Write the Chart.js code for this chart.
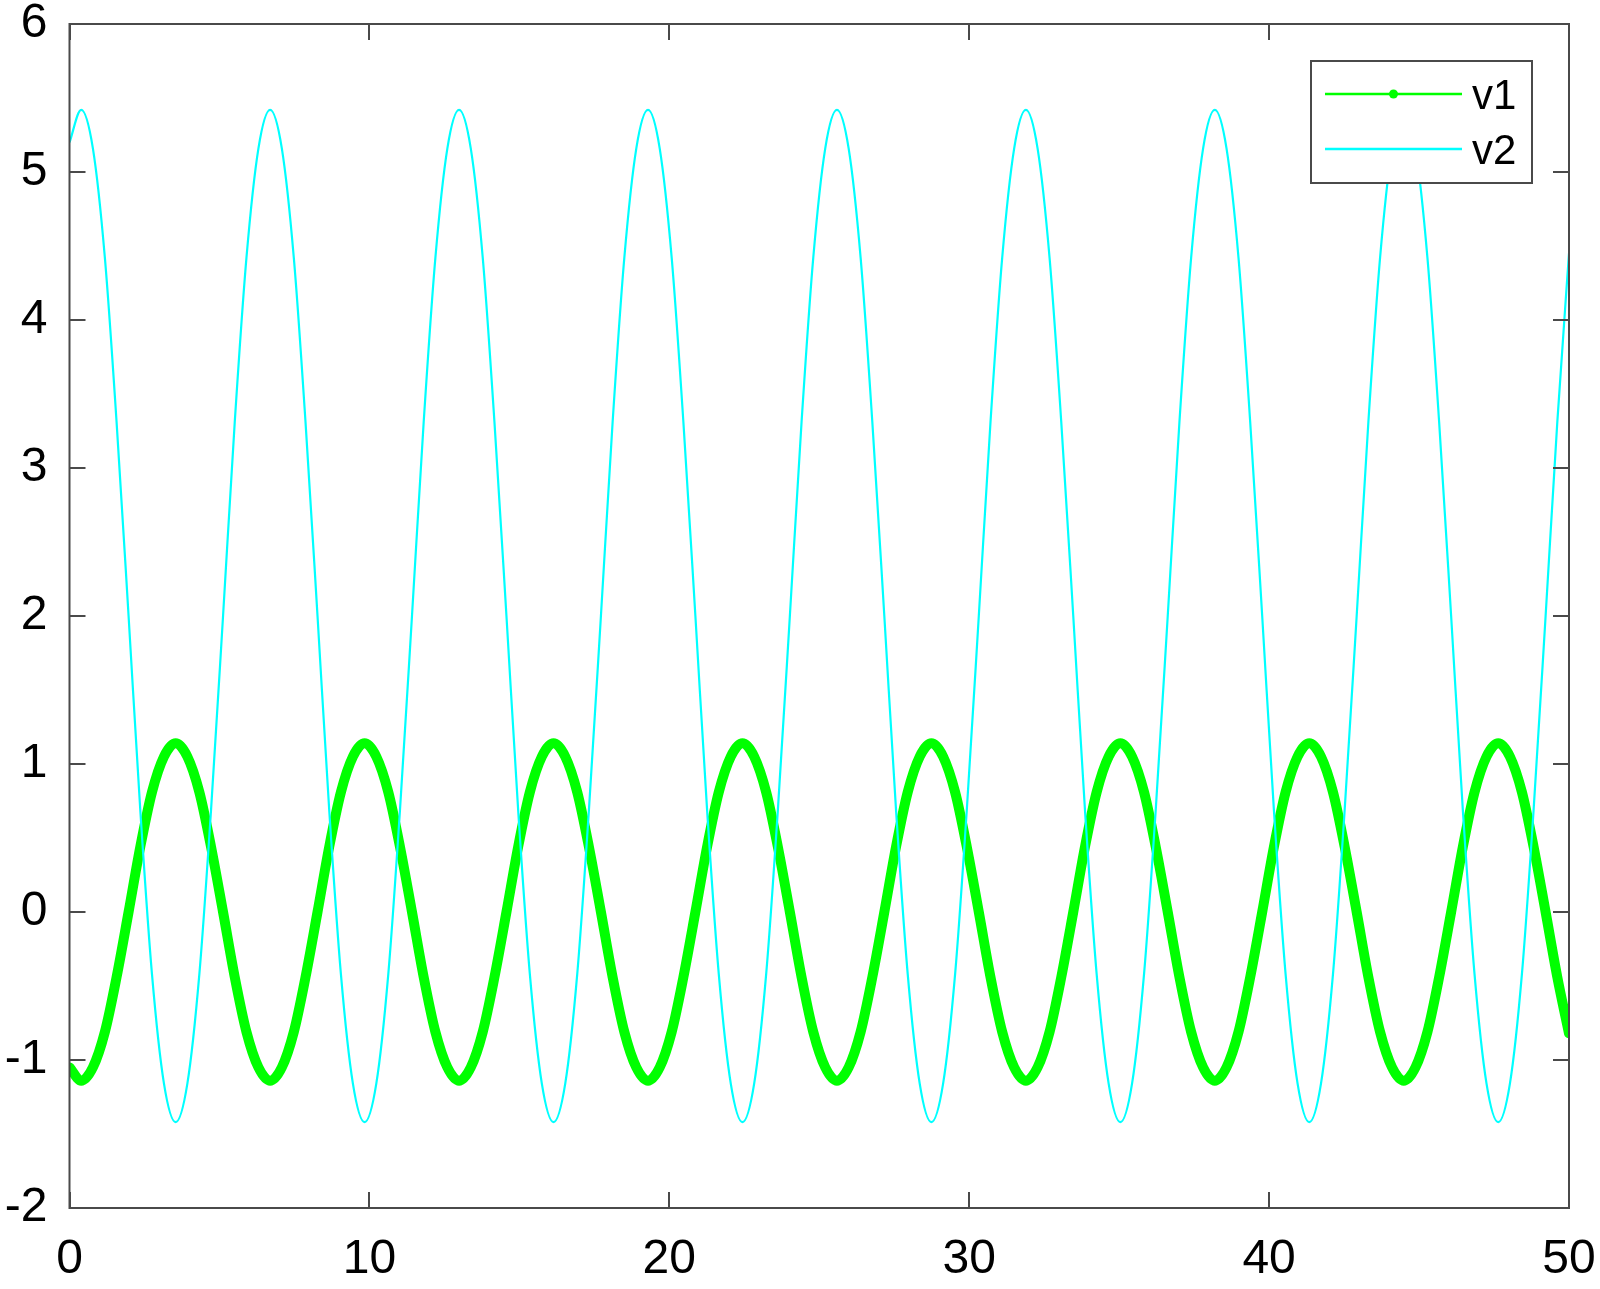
<!DOCTYPE html>
<html>
<head>
<meta charset="utf-8">
<script src="https://cdn.jsdelivr.net/npm/chart.js@4.4.1/dist/chart.umd.min.js"></script>
<style>html,body{margin:0;padding:0;background:#fff;}canvas{display:block;}</style>
</head>
<body>
<canvas id="c" width="1600" height="1289"></canvas>
<script>
// x positions
const xValues = [0,
 0.39, 0.78, 1.18, 1.57, 1.97, 2.36, 2.75, 3.15, 3.54, 3.93, 4.33, 4.72, 5.12, 5.51, 5.90, 6.30,
 6.69, 7.08, 7.48, 7.87, 8.27, 8.66, 9.05, 9.45, 9.84, 10.23, 10.63, 11.02, 11.42, 11.81, 12.20, 12.60,
 12.99, 13.38, 13.78, 14.17, 14.57, 14.96, 15.35, 15.75, 16.14, 16.53, 16.93, 17.32, 17.72, 18.11, 18.50, 18.90,
 19.29, 19.68, 20.08, 20.47, 20.87, 21.26, 21.65, 22.05, 22.44, 22.83, 23.23, 23.62, 24.02, 24.41, 24.80, 25.20,
 25.59, 25.98, 26.38, 26.77, 27.17, 27.56, 27.95, 28.35, 28.74, 29.13, 29.53, 29.92, 30.32, 30.71, 31.10, 31.50,
 31.89, 32.28, 32.68, 33.07, 33.47, 33.86, 34.25, 34.65, 35.04, 35.43, 35.83, 36.22, 36.62, 37.01, 37.40, 37.80,
 38.19, 38.58, 38.98, 39.37, 39.77, 40.16, 40.55, 40.95, 41.34, 41.73, 42.13, 42.52, 42.92, 43.31, 43.70, 44.10,
 44.49, 44.88, 45.28, 45.67, 46.07, 46.46, 46.85, 47.25, 47.64, 48.03, 48.43, 48.82, 49.22, 49.61, 50.00];

const v1Values = [-1.05,
 -1.14, -1.05, -0.81, -0.44, 0, 0.44, 0.81, 1.05, 1.14, 1.05, 0.81, 0.44, 0, -0.44, -0.81, -1.05,
 -1.14, -1.05, -0.81, -0.44, 0, 0.44, 0.81, 1.05, 1.14, 1.05, 0.81, 0.44, 0, -0.44, -0.81, -1.05,
 -1.14, -1.05, -0.81, -0.44, 0, 0.44, 0.81, 1.05, 1.14, 1.05, 0.81, 0.44, 0, -0.44, -0.81, -1.05,
 -1.14, -1.05, -0.81, -0.44, 0, 0.44, 0.81, 1.05, 1.14, 1.05, 0.81, 0.44, 0, -0.44, -0.81, -1.05,
 -1.14, -1.05, -0.81, -0.44, 0, 0.44, 0.81, 1.05, 1.14, 1.05, 0.81, 0.44, 0, -0.44, -0.81, -1.05,
 -1.14, -1.05, -0.81, -0.44, 0, 0.44, 0.81, 1.05, 1.14, 1.05, 0.81, 0.44, 0, -0.44, -0.81, -1.05,
 -1.14, -1.05, -0.81, -0.44, 0, 0.44, 0.81, 1.05, 1.14, 1.05, 0.81, 0.44, 0, -0.44, -0.81, -1.05,
 -1.14, -1.05, -0.81, -0.44, 0, 0.44, 0.81, 1.05, 1.14, 1.05, 0.81, 0.44, 0, -0.44, -0.82];

const v2Values = [5.20,
 5.42, 5.16, 4.42, 3.31, 2.00, 0.69, -0.42, -1.16, -1.42, -1.16, -0.42, 0.69, 2.00, 3.31, 4.42, 5.16,
 5.42, 5.16, 4.42, 3.31, 2.00, 0.69, -0.42, -1.16, -1.42, -1.16, -0.42, 0.69, 2.00, 3.31, 4.42, 5.16,
 5.42, 5.16, 4.42, 3.31, 2.00, 0.69, -0.42, -1.16, -1.42, -1.16, -0.42, 0.69, 2.00, 3.31, 4.42, 5.16,
 5.42, 5.16, 4.42, 3.31, 2.00, 0.69, -0.42, -1.16, -1.42, -1.16, -0.42, 0.69, 2.00, 3.31, 4.42, 5.16,
 5.42, 5.16, 4.42, 3.31, 2.00, 0.69, -0.42, -1.16, -1.42, -1.16, -0.42, 0.69, 2.00, 3.31, 4.42, 5.16,
 5.42, 5.16, 4.42, 3.31, 2.00, 0.69, -0.42, -1.16, -1.42, -1.16, -0.42, 0.69, 2.00, 3.31, 4.42, 5.16,
 5.42, 5.16, 4.42, 3.31, 2.00, 0.69, -0.42, -1.16, -1.42, -1.16, -0.42, 0.69, 2.00, 3.31, 4.42, 5.16,
 5.42, 5.16, 4.42, 3.31, 2.00, 0.69, -0.42, -1.16, -1.42, -1.16, -0.42, 0.69, 2.00, 3.31, 4.45];

const seriesNames = ['v1', 'v2'];
const seriesColors = ['#00ff00', '#00ffff'];
const xTickValues = [0, 10, 20, 30, 40, 50];
const yTickValues = [-2, -1, 0, 1, 2, 3, 4, 5, 6];

const FONT = "'Liberation Sans', Arial, sans-serif";
const AXIS_COLOR = '#4a4a4a';

const boxPlugin = {
  id: 'matlabBox',
  afterDatasetsDraw(chart) {
    const {ctx, chartArea: a, scales} = chart;
    ctx.save();
    ctx.strokeStyle = AXIS_COLOR;
    ctx.lineWidth = 2;
    ctx.beginPath();
    const tl = 16;
    xTickValues.forEach(v => {
      const px = Math.round(scales.x.getPixelForValue(v));
      ctx.moveTo(px, a.bottom); ctx.lineTo(px, a.bottom - tl);
      ctx.moveTo(px, a.top); ctx.lineTo(px, a.top + tl);
    });
    yTickValues.forEach(v => {
      const py = Math.round(scales.y.getPixelForValue(v));
      ctx.moveTo(a.left, py); ctx.lineTo(a.left + tl, py);
      ctx.moveTo(a.right, py); ctx.lineTo(a.right - tl, py);
    });
    ctx.stroke();
    ctx.strokeRect(a.left, a.top, a.right - a.left, a.bottom - a.top);
    ctx.restore();
  },
  afterDraw(chart) {
    const {ctx} = chart;
    const lx = 1311, ly = 61, lw = 221, lh = 122;
    ctx.save();
    ctx.fillStyle = '#ffffff';
    ctx.fillRect(lx, ly, lw, lh);
    ctx.strokeStyle = AXIS_COLOR;
    ctx.lineWidth = 2;
    ctx.strokeRect(lx, ly, lw, lh);
    const rows = [94, 149];
    chart.data.datasets.forEach((ds, i) => {
      const y = rows[i];
      ctx.strokeStyle = ds.borderColor;
      ctx.lineWidth = 2.5;
      ctx.beginPath();
      ctx.moveTo(1325, y); ctx.lineTo(1462, y);
      ctx.stroke();
      if (i === 0) {
        ctx.fillStyle = ds.borderColor;
        ctx.beginPath();
        ctx.arc(1393.5, y, 4.5, 0, Math.PI * 2);
        ctx.fill();
      }
      ctx.fillStyle = '#000';
      ctx.font = '42px ' + FONT;
      ctx.textBaseline = 'middle';
      ctx.textAlign = 'left';
      ctx.fillText(ds.label, 1472, y + 3);
    });
    ctx.restore();
  }
};

function noPad(s) {
  s.paddingTop = 0; s.paddingBottom = 0; s.paddingLeft = 0; s.paddingRight = 0;
}

const ctx = document.getElementById('c').getContext('2d');
new Chart(ctx, {
  type: 'line',
  data: {
    datasets: [
      {
        label: seriesNames[0],
        data: xValues.map((x, i) => ({x: x, y: v1Values[i]})),
        borderColor: seriesColors[0],
        borderWidth: 10,
        pointRadius: 0,
        cubicInterpolationMode: 'monotone',
        borderCapStyle: 'round',
        borderJoinStyle: 'round',
        order: 1
      },
      {
        label: seriesNames[1],
        data: xValues.map((x, i) => ({x: x, y: v2Values[i]})),
        borderColor: seriesColors[1],
        borderWidth: 2.2,
        pointRadius: 0,
        cubicInterpolationMode: 'monotone',
        order: 0
      }
    ]
  },
  options: {
    responsive: false,
    animation: false,
    devicePixelRatio: 1,
    layout: {padding: {top: 24, right: 31, left: 0, bottom: 0}},
    plugins: {legend: {display: false}, tooltip: {enabled: false}},
    scales: {
      x: {
        type: 'linear', min: 0, max: 50,
        afterBuildTicks(s) { s.ticks = xTickValues.map(v => ({value: v})); },
        ticks: {font: {family: FONT, size: 48}, color: '#000', padding: 23, maxRotation: 0, autoSkip: false},
        grid: {display: false, drawTicks: false},
        border: {display: false},
        afterFit(s) { s.height = 81; noPad(s); }
      },
      y: {
        type: 'linear', min: -2, max: 6,
        afterBuildTicks(s) { s.ticks = yTickValues.map(v => ({value: v})); },
        ticks: {font: {family: FONT, size: 48}, color: '#000', padding: 22, autoSkip: false},
        grid: {display: false, drawTicks: false},
        border: {display: false},
        afterFit(s) { s.width = 69.5; noPad(s); }
      }
    }
  },
  plugins: [boxPlugin]
});
</script>
</body>
</html>
